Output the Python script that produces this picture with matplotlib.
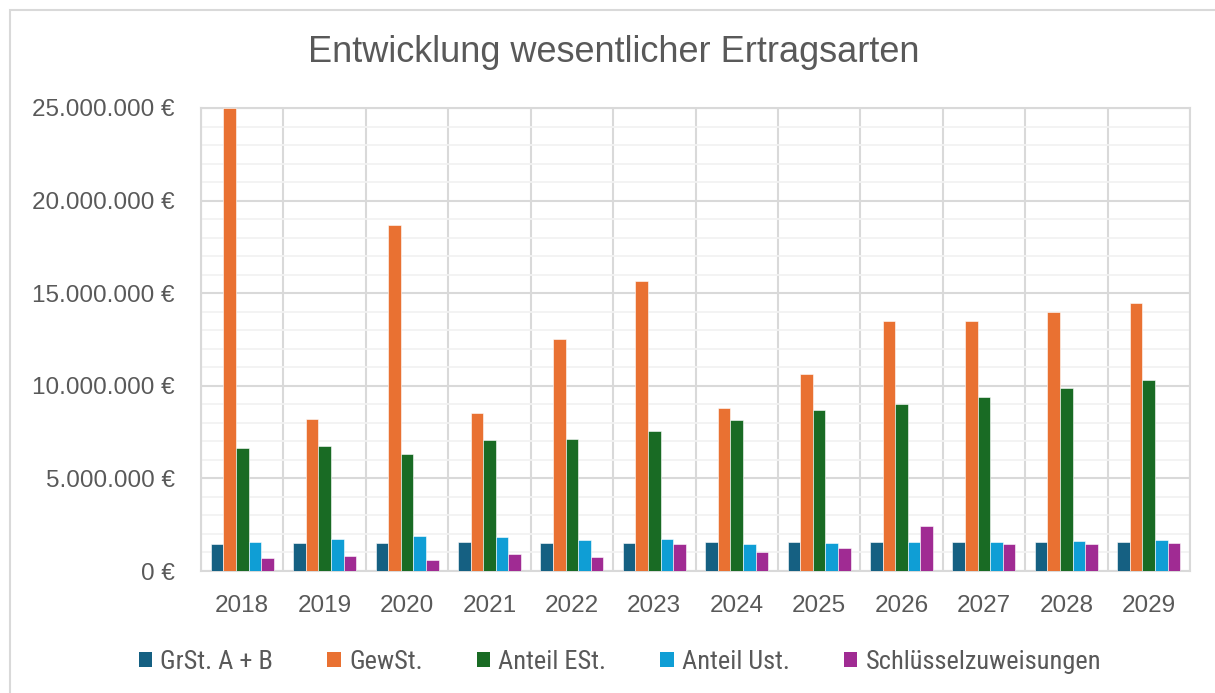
import matplotlib
matplotlib.use("Agg")
import matplotlib.pyplot as plt
import matplotlib.ticker as mticker
from matplotlib.patches import Rectangle
from matplotlib import font_manager
import numpy as np

years = ["2018", "2019", "2020", "2021", "2022", "2023", "2024", "2025", "2026", "2027", "2028", "2029"]
series_names = ["GrSt. A + B", "GewSt.", "Anteil ESt.", "Anteil Ust.", "Schlüsselzuweisungen"]
grst = [1.46, 1.51, 1.50, 1.57, 1.52, 1.52, 1.55, 1.55, 1.55, 1.55, 1.55, 1.55]
gewst = [25.0, 8.20, 18.70, 8.53, 12.53, 15.66, 8.80, 10.64, 13.50, 13.50, 13.98, 14.47]
est = [6.64, 6.75, 6.32, 7.07, 7.13, 7.56, 8.15, 8.69, 9.02, 9.41, 9.88, 10.31]
ust = [1.57, 1.73, 1.89, 1.84, 1.67, 1.72, 1.46, 1.50, 1.54, 1.58, 1.62, 1.66]
schl = [0.70, 0.81, 0.60, 0.90, 0.77, 1.46, 1.03, 1.24, 2.43, 1.46, 1.46, 1.51]
colors = ["#156082", "#E97132", "#196B24", "#0F9ED5", "#A02B93"]


def available(name):
    try:
        font_manager.findfont(font_manager.FontProperties(family=name), fallback_to_default=False)
        return True
    except Exception:
        return False


narrow = None
for cand in ["Liberation Sans Narrow", "Roboto Condensed", "DejaVu Sans Condensed", "Open Sans Condensed"]:
    if available(cand):
        narrow = cand
        break

W, H = 1215, 693
fig = plt.figure(figsize=(W / 100, H / 100), dpi=100)
fig.patch.set_facecolor("white")

# outer chart frame
fig.add_artist(Rectangle((10 / W, -0.05), 1.2, (H - 10) / H + 0.05, transform=fig.transFigure,
                         fill=False, edgecolor="#d9d9d9", linewidth=1.5))

left, right, top, bottom = 201, 1190, 108, 571
ax = fig.add_axes([left / W, 1 - bottom / H, (right - left) / W, (bottom - top) / H])

data = [grst, gewst, est, ust, schl]
n = len(data)
bw = 0.153
x = np.arange(len(years))
for i, (vals, c, name) in enumerate(zip(data, colors, series_names)):
    offs = (i - (n - 1) / 2) * bw
    ax.bar(x + offs, np.array(vals) * 1e6, width=bw, color=c, label=name,
           edgecolor="white", linewidth=0.4, zorder=3)

ax.set_xlim(-0.5, len(years) - 0.5)
ax.set_ylim(0, 25e6)
ax.yaxis.set_major_locator(mticker.MultipleLocator(5e6))
ax.yaxis.set_minor_locator(mticker.MultipleLocator(1e6))
ax.yaxis.set_major_formatter(mticker.FuncFormatter(
    lambda v, p: "0 €" if v == 0 else f"{int(v):,} €".replace(",", ".")))
ax.grid(axis="y", which="major", color="#d9d9d9", linewidth=1.5, zorder=0)
ax.grid(axis="y", which="minor", color="#f2f2f2", linewidth=1.3, zorder=0)
for k in range(len(years) + 1):
    ax.axvline(k - 0.5, color="#d9d9d9", linewidth=1.5, zorder=1)
ax.set_xticks(x)
ax.set_xticklabels(years)
ax.tick_params(axis="both", which="both", length=0, colors="#595959", labelsize=17.5)
ax.tick_params(axis="x", pad=17.5)
ax.tick_params(axis="y", pad=19)
for lab in ax.get_yticklabels() + ax.get_xticklabels():
    lab.set_family(["Liberation Sans", "DejaVu Sans"])
for s in ax.spines.values():
    s.set_color("#d9d9d9")
    s.set_linewidth(1.5)

fig.text(614 / W, 1 - 53 / H, "Entwicklung wesentlicher Ertragsarten", ha="center", va="center",
         fontsize=26, color="#595959", family=["Liberation Sans", "DejaVu Sans"])

if narrow:
    lprop = {"family": [narrow, "DejaVu Sans"], "size": 19}
    cs = 2.05
else:
    lprop = {"family": ["Liberation Sans", "DejaVu Sans"], "size": 17}
    cs = 2.1
leg = fig.legend(loc="center", bbox_to_anchor=(620 / W, 1 - 662 / H), ncol=5, frameon=False,
                 prop=lprop, handlelength=0.5, handleheight=0.5, handletextpad=0.32,
                 columnspacing=cs)
for t in leg.get_texts():
    t.set_color("#595959")
for h in leg.legend_handles:
    h.set_edgecolor("none")

fig.savefig("out.png", dpi=100, facecolor="white")
